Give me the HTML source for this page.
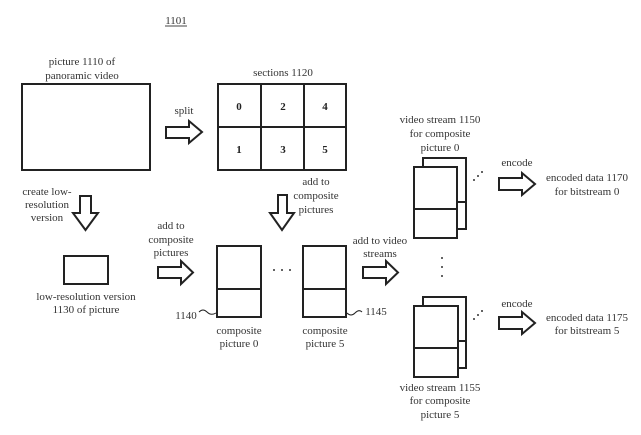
<!DOCTYPE html>
<html><head><meta charset="utf-8"><style>
html,body{margin:0;padding:0;background:#fff;}
svg{display:block;}
text{font-family:"Liberation Serif",serif;font-size:11px;fill:#333;text-anchor:middle;}
.b{font-weight:bold;fill:#222;}
</style></head><body>
<svg width="641" height="435" viewBox="0 0 641 435" xmlns="http://www.w3.org/2000/svg">
<g fill="none" stroke="#222" stroke-width="2">
<!-- picture 1110 -->
<rect x="22" y="84" width="128" height="86"/>
<!-- sections grid -->
<rect x="218" y="84" width="128" height="86"/>
<line x1="261" y1="84" x2="261" y2="170"/>
<line x1="304" y1="84" x2="304" y2="170"/>
<line x1="218" y1="127" x2="346" y2="127"/>
<!-- low res -->
<rect x="64" y="256" width="44" height="28"/>
<!-- composite 0 -->
<rect x="217" y="246" width="44" height="71"/>
<line x1="217" y1="289" x2="261" y2="289"/>
<!-- composite 5 -->
<rect x="303" y="246" width="43" height="71"/>
<line x1="303" y1="289" x2="346" y2="289"/>
<!-- video stream 1150 -->
<polyline points="423,167 423,158 466,158 466,229 457,229"/>
<line x1="457" y1="202" x2="466" y2="202"/>
<rect x="414" y="167" width="43" height="71"/>
<line x1="414" y1="209" x2="457" y2="209"/>
<!-- video stream 1155 -->
<polyline points="423,306 423,297 466,297 466,368 458,368"/>
<line x1="458" y1="341" x2="466" y2="341"/>
<rect x="414" y="306" width="44" height="71"/>
<line x1="414" y1="348" x2="458" y2="348"/>
<!-- right arrows -->
<polygon points="166,127 189,127 189,121 202,132 189,143 189,138 166,138"/>
<polygon points="158,267 181,267 181,261 193,272.5 181,284 181,278 158,278"/>
<polygon points="363,267 386,267 386,261 398,272.5 386,284 386,278 363,278"/>
<polygon points="499,178 522,178 522,173 535,184 522,195 522,190 499,190"/>
<polygon points="499,317 522,317 522,312 535,323 522,334 522,329 499,329"/>
<!-- down arrows -->
<polygon points="80,196 91,196 91,213 98,213 85.5,230 73,213 80,213"/>
<polygon points="278,195 287,195 287,213 294,213 282,230 270,213 278,213"/>
<!-- tildes -->
<path d="M199,312 q4,-4 8,0 t9,1" stroke-width="1"/>
<path d="M347,313 q4,4 8,0 t7,-1" stroke-width="1"/>
<!-- underline 1101 -->
<line x1="165" y1="26" x2="187" y2="26" stroke-width="1" stroke="#444"/>
</g>
<g fill="#333">
<circle cx="474" cy="180" r="1"/><circle cx="478" cy="176" r="1"/><circle cx="482" cy="172" r="1"/>
<circle cx="474" cy="319" r="1"/><circle cx="478" cy="315" r="1"/><circle cx="482" cy="311" r="1"/>
<circle cx="442" cy="258" r="1"/><circle cx="442" cy="267" r="1"/><circle cx="442" cy="276" r="1"/>
<circle cx="274" cy="270" r="1"/><circle cx="282" cy="270" r="1"/><circle cx="290" cy="270" r="1"/>
</g>
<text x="176" y="24">1101</text>
<text x="82" y="65">picture 1110 of</text>
<text x="82" y="79">panoramic video</text>
<text x="283" y="76">sections 1120</text>
<text x="184" y="114">split</text>
<text class="b" x="239" y="110">0</text>
<text class="b" x="283" y="110">2</text>
<text class="b" x="325" y="110">4</text>
<text class="b" x="239" y="153">1</text>
<text class="b" x="283" y="153">3</text>
<text class="b" x="325" y="153">5</text>
<text x="47" y="195">create low-</text>
<text x="47" y="208">resolution</text>
<text x="47" y="221">version</text>
<text x="316" y="185">add to</text>
<text x="316" y="199">composite</text>
<text x="316" y="213">pictures</text>
<text x="171" y="229">add to</text>
<text x="171" y="243">composite</text>
<text x="171" y="256">pictures</text>
<text x="86" y="300">low-resolution version</text>
<text x="86" y="313">1130 of picture</text>
<text x="186" y="319">1140</text>
<text x="376" y="315">1145</text>
<text x="239" y="334">composite</text>
<text x="239" y="347">picture 0</text>
<text x="325" y="334">composite</text>
<text x="325" y="347">picture 5</text>
<text x="380" y="244">add to video</text>
<text x="380" y="257">streams</text>
<text x="440" y="123">video stream 1150</text>
<text x="440" y="137">for composite</text>
<text x="440" y="151">picture 0</text>
<text x="517" y="166">encode</text>
<text x="587" y="181">encoded data 1170</text>
<text x="587" y="195">for bitstream 0</text>
<text x="517" y="307">encode</text>
<text x="587" y="321">encoded data 1175</text>
<text x="587" y="334">for bitstream 5</text>
<text x="440" y="391">video stream 1155</text>
<text x="440" y="404">for composite</text>
<text x="440" y="418">picture 5</text>
</svg>
</body></html>
